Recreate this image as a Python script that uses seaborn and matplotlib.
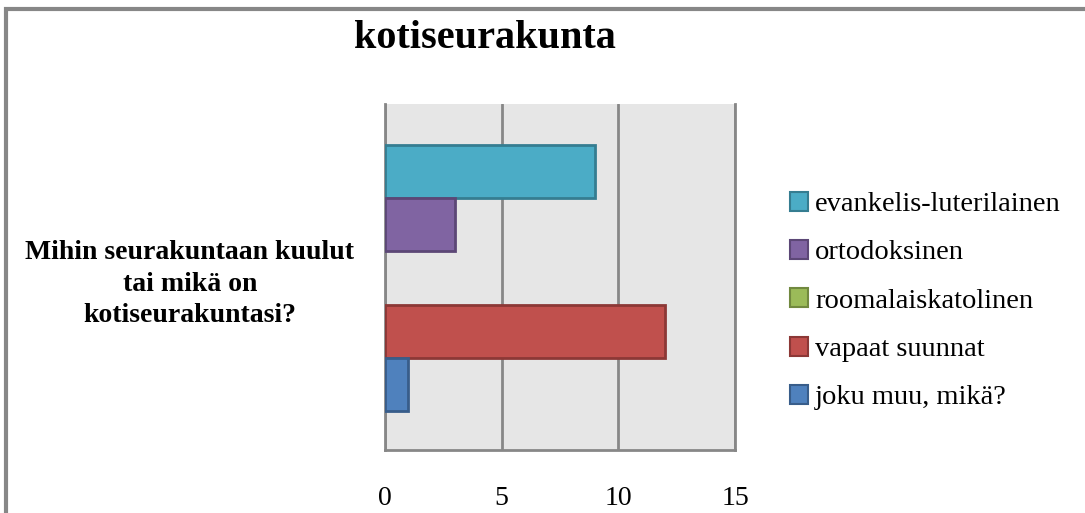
import pandas as pd
import matplotlib.pyplot as plt
import seaborn as sns
from matplotlib.patches import Patch, Rectangle

# Data
question = ["Mihin seurakuntaan kuulut\ntai mikä on\nkotiseurakuntasi?"]
series = ["evankelis-luterilainen", "ortodoksinen", "roomalaiskatolinen",
          "vapaat suunnat", "joku muu, mikä?"]
values = [9, 3, 0, 12, 1]
x_ticks = [0, 5, 10, 15]

fill_colors = ["#4BACC6", "#8064A2", "#9BBB59", "#C0504D", "#4F81BD"]
edge_colors = ["#357D91", "#5C4776", "#71893F", "#8C3836", "#385D8A"]

df = pd.DataFrame({
    "group": question * len(series),
    "series": series,
    "value": values,
})

sns.set_theme(style="white")
plt.rcParams["font.family"] = ["Liberation Serif", "DejaVu Serif"]
plt.rcParams["text.color"] = "black"
plt.rcParams["xtick.color"] = "black"
plt.rcParams["ytick.color"] = "black"

fig = plt.figure(figsize=(10.85, 5.13), dpi=100)
ax = fig.add_axes([385 / 1085, 1 - 450 / 513, 350 / 1085, 346 / 513])
ax.set_facecolor("#E6E6E6")

sns.barplot(data=df, x="value", y="group", hue="series", hue_order=series,
            orient="h", palette=fill_colors, saturation=1, dodge=True,
            width=0.8, legend=False, ax=ax, linewidth=2)

bars = [p for p in ax.patches if isinstance(p, Rectangle)]
for bar, ec in zip(bars, edge_colors):
    bar.set_edgecolor(ec)
    bar.set_zorder(3)
    if bar.get_width() == 0:
        bar.set_visible(False)

ax.set_xlim(0, 15)
ax.set_ylim(0.517, -0.523)
ax.set_xticks(x_ticks)
ax.set_xticklabels([str(t) for t in x_ticks], fontsize=20)
ax.tick_params(axis="x", length=0, pad=26)
ax.tick_params(axis="y", length=0, pad=22)
for lbl in ax.get_yticklabels():
    lbl.set_fontsize(20)
    lbl.set_fontweight("bold")
    lbl.set_multialignment("center")
    lbl.set_linespacing(1.32)
ax.set_xlabel("")
ax.set_ylabel("")

ax.xaxis.grid(True, color="#878787", linewidth=2)
ax.set_axisbelow(True)
ax.spines["top"].set_visible(False)
for side in ["left", "bottom", "right"]:
    ax.spines[side].set_color("#878787")
    ax.spines[side].set_linewidth(2)

fig.text(485 / 1085, 1 - 38 / 513, "kotiseurakunta", ha="center", va="center",
         fontsize=29, fontweight="bold")

handles = [Patch(facecolor=fc, edgecolor=ec, linewidth=1.5)
           for fc, ec in zip(fill_colors, edge_colors)]
fig.legend(handles, series, loc="center left",
           bbox_to_anchor=(764 / 1085, 1 - 301 / 513), frameon=False,
           fontsize=20.5, handlelength=0.65, handleheight=0.65,
           handletextpad=0.25, labelspacing=0.8)

# chart frame (top and left edges visible in the crop)
fig.patches.append(Rectangle((6 / 1085, -0.1), 1.2, 1 - 9 / 513 + 0.1,
                             transform=fig.transFigure, fill=False,
                             edgecolor="#878787", linewidth=3))

fig.savefig("out.png", dpi=100)
